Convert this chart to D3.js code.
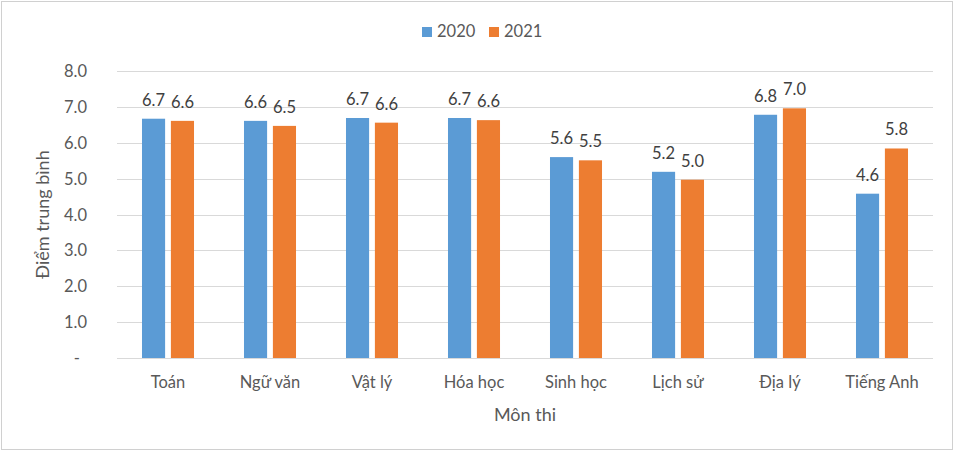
<!DOCTYPE html>
<html>
<head>
<meta charset="utf-8">
<script src="https://cdn.jsdelivr.net/npm/d3@7"></script>
<style>
  html, body { margin: 0; padding: 0; background: #fff; }
  svg { display: block; font-family: Lato, "Open Sans", sans-serif; }
</style>
</head>
<body>
<svg id="chart" width="955" height="452"></svg>
<script>
const categories = ["Toán", "Ngữ văn", "Vật lý", "Hóa học", "Sinh học", "Lịch sử", "Địa lý", "Tiếng Anh"];
const seriesNames = ["2020", "2021"];
const values2020 = [6.67, 6.61, 6.69, 6.69, 5.60, 5.19, 6.78, 4.58];
const values2021 = [6.61, 6.47, 6.56, 6.63, 5.51, 4.97, 6.96, 5.84];
const yTicks = [0, 1, 2, 3, 4, 5, 6, 7, 8];
const colors = ["#5b9bd5", "#ed7d31"];

const svg = d3.select("#chart");
const W = 955, H = 452;
const margin = { left: 117, right: 22, top: 71, bottom: 94 };
const textColor = "#595959";

svg.append("rect").attr("x", 1.5).attr("y", 1.5).attr("width", W - 4).attr("height", H - 4)
  .attr("fill", "#fff").attr("stroke", "#d0d0d0").attr("stroke-width", 1);

const x0 = d3.scaleBand().domain(categories).range([margin.left, W - margin.right]).padding(0);
const bw = x0.bandwidth();
const x1 = d3.scaleBand().domain(seriesNames).range([bw * 0.245, bw * 0.755]).paddingInner(0.2);
const y = d3.scaleLinear().domain([0, 8]).range([H - margin.bottom, margin.top]);

// gridlines
svg.append("g").selectAll("line").data(yTicks).join("line")
  .attr("x1", margin.left).attr("x2", W - margin.right)
  .attr("y1", d => Math.round(y(d)) + 0.5).attr("y2", d => Math.round(y(d)) + 0.5)
  .attr("stroke", "#d9d9d9").attr("stroke-width", 1);

// y tick labels
svg.append("g").selectAll("text").data(yTicks).join("text")
  .attr("x", d => d === 0 ? 80 : 87)
  .attr("y", d => y(d) + 6)
  .attr("text-anchor", "end")
  .attr("font-size", 16.5)
  .attr("fill", textColor)
  .text(d => d === 0 ? "-" : d3.format(".1f")(d));

const data = categories.map((c, i) => ({ cat: c, vals: [values2020[i], values2021[i]] }));

const groups = svg.append("g").selectAll("g").data(data).join("g")
  .attr("transform", d => `translate(${x0(d.cat)},0)`);

groups.selectAll("rect").data(d => d.vals.map((v, j) => ({ s: seriesNames[j], v, j }))).join("rect")
  .attr("x", d => x1(d.s))
  .attr("width", x1.bandwidth())
  .attr("y", d => y(d.v))
  .attr("height", d => y(0) - y(d.v))
  .attr("fill", d => colors[d.j]);

groups.selectAll("text.lbl").data(d => d.vals.map((v, j) => ({ s: seriesNames[j], v, j }))).join("text")
  .attr("class", "lbl")
  .attr("x", d => x1(d.s) + x1.bandwidth() / 2)
  .attr("y", d => y(d.v) - 13)
  .attr("text-anchor", "middle")
  .attr("font-size", 16.5)
  .attr("fill", "#404040")
  .text(d => d3.format(".1f")(d.v));

// x category labels
svg.append("g").selectAll("text").data(categories).join("text")
  .attr("x", d => x0(d) + bw / 2)
  .attr("y", 388)
  .attr("text-anchor", "middle")
  .attr("font-size", 16.5)
  .attr("fill", textColor)
  .text(d => d);

// axis titles
svg.append("text")
  .attr("x", (margin.left + W - margin.right) / 2)
  .attr("y", 421)
  .attr("text-anchor", "middle")
  .attr("font-size", 18)
  .attr("fill", textColor)
  .text("Môn thi");

svg.append("text")
  .attr("transform", `translate(49,${(y(0) + y(8)) / 2}) rotate(-90)`)
  .attr("text-anchor", "middle")
  .attr("font-size", 18)
  .attr("fill", textColor)
  .text("Điểm trung bình");

// legend
const legend = svg.append("g");
const legendX = [422, 489];
seriesNames.forEach((s, i) => {
  legend.append("rect").attr("x", legendX[i]).attr("y", 27).attr("width", 10).attr("height", 10).attr("fill", colors[i]);
  legend.append("text").attr("x", legendX[i] + 15).attr("y", 37)
    .attr("font-size", 16.5).attr("fill", textColor).text(s);
});
</script>
</body>
</html>
